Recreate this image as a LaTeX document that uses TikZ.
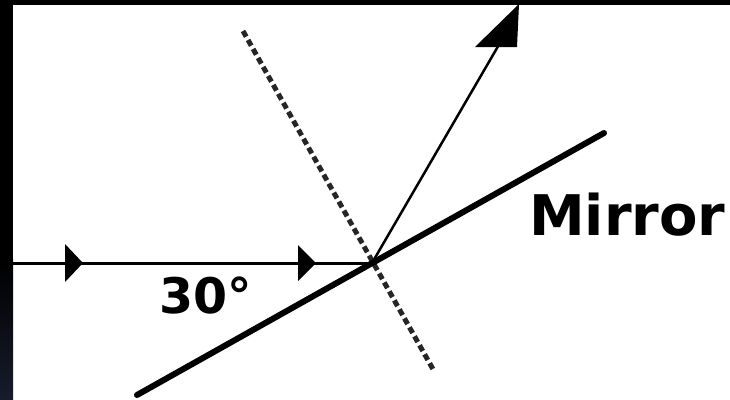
\documentclass[tikz,border=0pt]{standalone}
\usepackage{fontspec}
\setmainfont{DejaVu Sans}
\usetikzlibrary{decorations.markings,calc}
\begin{document}
\begin{tikzpicture}[x=1pt,y=-1pt,
  ray/.style={line width=3pt,black},
  mirrorline/.style={line width=6pt,black,line cap=round},
  normalline/.style={line width=5pt,black!85,dash pattern=on 6.5pt off 3.8pt},
  reflray/.style={line width=2.5pt,black},
  lbl/.style={inner sep=0pt,font=\bfseries},
  midtips/.style={postaction={decorate},decoration={markings,
    mark=at position 77pt with {\fill (-17pt,-19pt) -- (1pt,0pt) -- (-17pt,19pt) -- cycle;},
    mark=at position 310pt with {\fill (-17pt,-18pt) -- (1pt,0pt) -- (-17pt,18pt) -- cycle;}}}
]
\useasboundingbox (0,0) rectangle (730,399);
\fill[white] (0,0) rectangle (730,399);
% points
\coordinate (src) at (5,263);
\coordinate (O) at (372,263);
\coordinate (M1) at (137,395);
\coordinate (M2) at (604,133);
\coordinate (N1) at (243,31);
\coordinate (N2) at (434,371);
\coordinate (R) at (519,4);
% normal (dashed)
\draw[normalline] (N1) -- (N2);
% mirror
\draw[mirrorline] (M1) -- (M2);
% incident ray
\draw[ray,midtips] (src) -- (O);
% reflected ray
\draw[reflray] (O) -- ($(R)+(-8,20)$);
\fill (R) -- ($(R)+(-2,43)$) -- ($(R)+(-44,43)$) -- cycle;
% labels
\node[lbl,font=\bfseries\fontsize{49}{49}\selectfont,anchor=base west] (ang) at (159,313) {30°};
\node[lbl,font=\bfseries\fontsize{56}{56}\selectfont,anchor=base west] (mir) at (529,235) {Mirror};
% frame
\fill[black] (0,0) rectangle (730,5);
\fill[black] (0,0) rectangle (13,260);
\shade[top color=black,bottom color={rgb,255:red,22;green,28;blue,44}] (0,259) rectangle (13,399);
\end{tikzpicture}
\end{document}
